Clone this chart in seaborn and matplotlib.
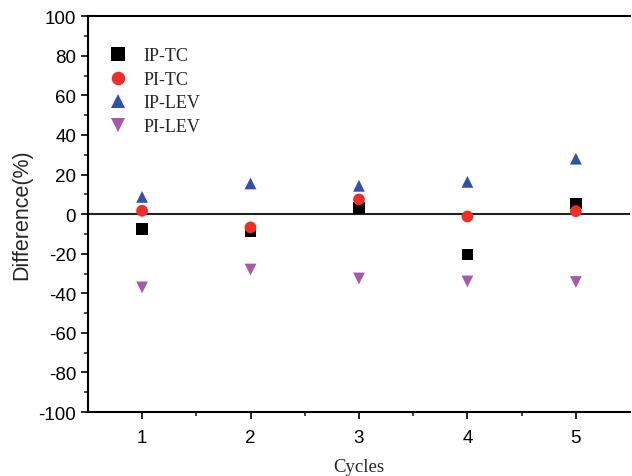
import pandas as pd
import matplotlib
matplotlib.use("Agg")
import matplotlib.pyplot as plt
import seaborn as sns

cycles = [1, 2, 3, 4, 5]
ip_tc = [-7.5, -8.4, 3.0, -20.4, 5.4]
pi_tc = [1.7, -6.7, 7.4, -1.2, 1.5]
ip_lev = [8.7, 15.5, 14.3, 16.3, 28.0]
pi_lev = [-37.0, -28.0, -32.5, -34.0, -34.3]

series = ["IP-TC", "PI-TC", "IP-LEV", "PI-LEV"]
colors = ["#000000", "#ec3027", "#3251a3", "#a65aa7"]
markers = ["s", "o", "^", "v"]

df = pd.concat([
    pd.DataFrame({"Cycles": cycles, "Difference": vals, "Series": name})
    for name, vals in zip(series, [ip_tc, pi_tc, ip_lev, pi_lev])
])

sns.set_style("ticks")
plt.rcParams["axes.unicode_minus"] = False
fig = plt.figure(figsize=(6.32, 4.77), dpi=100)
ax = fig.add_axes([0.139, 0.134, 0.858, 0.830])

sns.scatterplot(data=df, x="Cycles", y="Difference", hue="Series", style="Series",
                hue_order=series, style_order=series,
                palette=dict(zip(series, colors)), markers=dict(zip(series, markers)),
                s=72, linewidth=0, ax=ax, zorder=3)

ax.axhline(0, color="#222222", linewidth=1.5, zorder=2)

ax.set_xlim(0.5, 5.5)
ax.set_ylim(-100, 100)
ax.set_xticks(cycles)
ax.set_xticks([1.5, 2.5, 3.5, 4.5], minor=True)
ax.set_yticks(range(-100, 101, 20))
ax.set_yticks(range(-90, 100, 20), minor=True)
ax.tick_params(axis="both", which="major", direction="out", length=5, width=1.2,
               labelsize=13.5, colors="black")
ax.tick_params(axis="x", which="major", pad=7)
ax.tick_params(axis="both", which="minor", direction="out", length=3, width=1.2)
for lab in ax.get_xticklabels() + ax.get_yticklabels():
    lab.set_fontfamily("Liberation Sans")

# 边框：保留左、下、上
ax.spines["right"].set_visible(False)
for s in ["left", "bottom", "top"]:
    ax.spines[s].set_linewidth(1.5)
    ax.spines[s].set_color("black")

ax.set_xlabel("Cycles", fontsize=13.5, family="Liberation Serif", labelpad=9)
ax.set_ylabel("Difference(%)", fontsize=15.5, family="Liberation Sans", labelpad=4)

leg = ax.legend(loc="upper left", bbox_to_anchor=(-0.008, 0.962), frameon=False,
                prop={"family": "Liberation Serif", "size": 13},
                handletextpad=0.4, labelspacing=0.36, markerscale=1.15)

fig.savefig("out.png", dpi=100)
